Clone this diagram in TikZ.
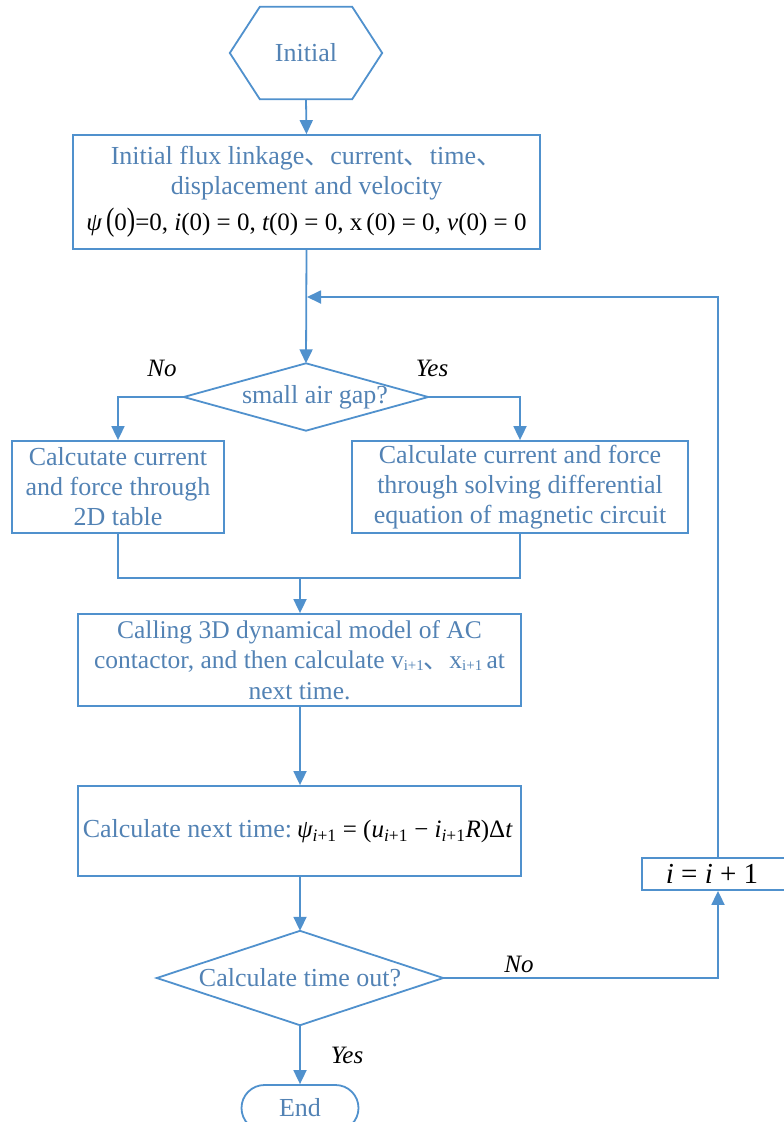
\documentclass[tikz,border=0pt]{standalone}
\usepackage{fontspec}
\usepackage{graphicx}
\setmainfont{Liberation Serif}
\newfontfamily\cjk{Noto Sans CJK SC}
\usetikzlibrary{arrows.meta,shapes.misc,calc}
\definecolor{ln}{RGB}{80,145,205}
\definecolor{tx}{RGB}{82,130,180}
\newcommand\ipo{\textsubscript{\itshape i\upshape +1}}
\newcommand\ipu{\raisebox{-2pt}{\fontsize{15}{15}\selectfont i+1}}
\newcommand\dun{{\cjk 、}}
\begin{document}
\begin{tikzpicture}[x=1pt,y=-1pt,
  every node/.style={font=\fontsize{26}{30}\selectfont, text=tx},
  box/.style={draw=ln, line width=1.8pt, inner sep=0pt, align=center},
  arr/.style={draw=ln, line width=1.8pt, -{Triangle[length=14pt,width=13pt]}},
  con/.style={draw=ln, line width=1.8pt},
  lab/.style={text=black, font=\fontsize{25}{28}\selectfont\itshape}]
\useasboundingbox (0,0) rectangle (784,1122);
\clip (0,0) rectangle (784,1122);
% start
\node[inner sep=0pt, minimum width=152pt, minimum height=92pt] (init) at (306,53) {Initial};
\draw[con] (init.west) -- ($(init.north west)+(30,0)$) -- ($(init.north east)+(-30,0)$) -- (init.east)
  -- ($(init.south east)+(-30,0)$) -- ($(init.south west)+(30,0)$) -- cycle;
% box1
\node[box, minimum width=467pt, minimum height=114pt] (b1) at (306.5,192) {Initial flux linkage\dun current\dun time\dun\\[0pt]
displacement and velocity\\[6pt]
{\color{black}\fontsize{25}{30}\selectfont{\itshape ψ}\,\scalebox{1}[1.3]{(}0\scalebox{1}[1.3]{)}=0, {\itshape i}(0) = 0, {\itshape t}(0) = 0, x\,(0) = 0, {\itshape v}(0) = 0}};
% decision 1
\node[inner sep=0pt, minimum width=244pt, minimum height=67pt] (d1) at (306,397) {\hspace{18pt}small air gap?};
\draw[con] (d1.north) -- (d1.east) -- (d1.south) -- (d1.west) -- cycle;
\node[lab] (no1) at (162,368) {No};
\node[lab] (yes1) at (432,368) {Yes};
% branch boxes
\node[box, minimum width=212pt, minimum height=92pt] (bl) at (118,487) {Calcutate current\\and force through\\2D table};
\node[box, minimum width=336pt, minimum height=92pt] (br) at (520,487) {Calculate current and force\\through solving differential\\equation of magnetic circuit};
\coordinate (j) at (300,578);
\coordinate (fb) at (307,297);
% box3, box4
\node[box, minimum width=443pt, minimum height=92pt, font=\fontsize{25.5}{30.5}\selectfont] (b3) at (299.5,660) {Calling 3D dynamical model of AC\\contactor, and then calculate v\ipu\dun x\ipu\,at\\next time.};
\node[box, minimum width=443pt, minimum height=90pt] (b4) at (299.5,831) {\hspace{-4pt}Calculate next time:\hspace{5pt}{\color{black}\fontsize{25}{30}\selectfont{\itshape ψ}\ipo{} = ({\itshape u}\ipo{} − {\itshape i}\ipo{\itshape R})Δ{\itshape t}}};
% decision 2
\node[inner sep=0pt, minimum width=286pt, minimum height=94pt] (d2) at (300,978) {Calculate time out?};
\draw[con] (d2.north) -- (d2.east) -- (d2.south) -- (d2.west) -- cycle;
\node[lab] (no2) at (519,964) {No};
\node[lab] (yes2) at (347,1055) {Yes};
% end
\node[draw=ln, line width=1.8pt, rounded rectangle, minimum width=117pt, minimum height=46pt, inner sep=0pt] (end) at (300,1108) {End};
% increment
\node[box, minimum width=152pt, minimum height=32pt] (inc) at (718,874) {};
\node[text=black, font=\fontsize{29}{30}\selectfont] (inct) at (712,874) {{\itshape i} = {\itshape i} + 1};
% connectors
\draw[arr] (init.south) -- (b1.north);
\draw[arr] (b1.south) -- (d1.north);
\draw[arr] (d1.west) -| (bl.north);
\draw[arr] (d1.east) -| (br.north);
\draw[con] (bl.south) |- (j) -| (br.south);
\draw[arr] (j) -- (b3.north -| j);
\draw[arr] (b3.south -| j) -- (b4.north -| j);
\draw[arr] (b4.south -| j) -- (d2.north);
\draw[arr] (d2.south) -- (end.north);
\draw[arr] (d2.east) -| (inc.south);
\draw[arr] (inc.north) |- (fb);
\end{tikzpicture}
\end{document}
